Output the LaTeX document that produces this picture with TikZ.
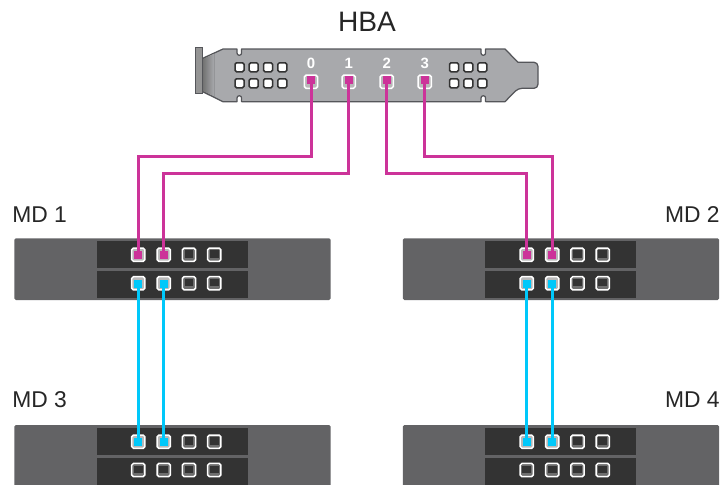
\documentclass[tikz,border=0pt]{standalone}
\usepackage{fontspec}
\setmainfont{Liberation Sans}
\definecolor{chassis}{HTML}{636365}
\definecolor{bay}{HTML}{333333}
\definecolor{idlerim}{HTML}{6E6E6E}
\definecolor{plate}{HTML}{A8A9AC}
\definecolor{plateedge}{HTML}{55565A}
\definecolor{pinkw}{HTML}{CC3399}
\definecolor{bluew}{HTML}{00C8FA}
\tikzset{
  x=0.02cm,y=-0.02cm,
  portbox/.style={draw=white,line width=0.3mm,rounded corners=0.35mm,minimum size=0.265cm,inner sep=0pt,outer sep=0pt},
  idle/.style={portbox,fill=idlerim,
    path picture={\fill[bay,sharp corners] ([shift={(0.45mm,0.7mm)}]path picture bounding box.south west) rectangle ([shift={(-0.45mm,-0.45mm)}]path picture bounding box.north east);}},
  live/.style={portbox,fill=white!72!black},
  pinkend/.style={fill=pinkw,minimum size=0.16cm,inner sep=0pt,outer sep=0pt},
  blueend/.style={fill=bluew,minimum size=0.16cm,inner sep=0pt,outer sep=0pt},
  hole/.style={draw=black!80,fill=white,line width=0.3mm,rounded corners=0.3mm,minimum size=0.18cm,inner sep=0pt},
  pinkwire/.style={draw=pinkw,line width=0.6mm},
  bluewire/.style={draw=bluew,line width=0.6mm},
  chassisbox/.style={fill=chassis,rounded corners=0.3mm},
  baybox/.style={fill=bay},
  title/.style={font=\fontsize{16pt}{18pt}\selectfont,text=black!85,inner sep=0pt},
  caption/.style={font=\fontsize{13pt}{15pt}\selectfont,text=black!85,inner sep=0pt},
  digit/.style={font=\bfseries\fontsize{8.5pt}{10pt}\selectfont,text=white,inner sep=0pt},
}
\newcommand{\mdbody}[2]{%
  \fill[chassisbox] (#1+14.3,#2+238.3) rectangle (#1+330.7,#2+300);
  \fill[baybox] (#1+96.7,#2+240.7) rectangle (#1+247.7,#2+267.7);
  \fill[baybox] (#1+96.7,#2+271.3) rectangle (#1+247.7,#2+298.3);
}
\begin{document}
\begin{tikzpicture}
\useasboundingbox (0,0) rectangle (724,484);
% HBA bracket
\fill[black!42] (195.7,47.7) rectangle (202.7,93.3);
\draw[plateedge,line width=0.2mm] (195.7,47.7) rectangle (202.7,93.3);
\draw[fill=plate,draw=plateedge,line width=0.25mm,line join=round]
  (202.7,58.3) -- (223,49) -- (237,49) -- (237,53) arc[start angle=180,end angle=360,x radius=2.3,y radius=-2.3] -- (241.6,49)
  -- (481,49) -- (481,53) arc[start angle=180,end angle=360,x radius=2.3,y radius=-2.3] -- (485.6,49)
  -- (505,49) -- (518,62.3) -- (534,62.3) [rounded corners=0.8mm] -- (538,62.3) -- (538,88.3) -- (518,88.3) [sharp corners]
  -- (505,101.7) -- (485.6,101.7) -- (485.6,98) arc[start angle=0,end angle=180,x radius=2.3,y radius=-2.3] -- (481,101.7)
  -- (241.6,101.7) -- (241.6,98) arc[start angle=0,end angle=180,x radius=2.3,y radius=-2.3] -- (237,101.7)
  -- (223,101.7) -- (202.7,91.7) -- cycle;
\fill[left color=black!55,right color=plate] (203,58.6) -- (214,53.5) -- (214,96.5) -- (203,91.4) -- cycle;
% bracket holes
\foreach \i/\hx in {1/239.5,2/253.7,3/268,4/282.3,5/454,6/468.3,7/482.3}{
  \node[hole] (hu\i) at (\hx,67.3) {};
  \node[hole] (hl\i) at (\hx,83.3) {};
}
% HBA ports
\foreach \n/\hx in {0/311,1/348.7,2/386.7,3/424.7}{
  \node[live] (hp\n) at (\hx,81.7) {};
  \node[digit] (hd\n) at (\hx,63.3) {\n};
}
% disk enclosures
\mdbody{0}{0}
\mdbody{388.5}{0}
\begin{scope}
\clip (0,0) rectangle (724,484);
\fill[chassisbox] (14.3,425) rectangle (330.7,490);
\fill[chassisbox] (402.8,425) rectangle (719.2,490);
\foreach \ox in {0,388.5}{
  \fill[baybox] (\ox+96.7,427.7) rectangle (\ox+247.7,454.7);
  \fill[baybox] (\ox+96.7,458.3) rectangle (\ox+247.7,490);
}
\end{scope}
% ports of the enclosures
\foreach \u/\ox/\ya/\yb in {a/0/254.7/283.3,b/388.5/254.7/283.3,c/0/441.7/470,d/388.5/441.7/470}{
  \foreach \k/\px in {1/138.3,2/163.7}{
    \node[live] (\u t\k) at (\ox+\px,\ya) {};
  }
  \foreach \k/\px in {3/189,4/214.3}{
    \node[idle] (\u t\k) at (\ox+\px,\ya) {};
    \node[idle] (\u b\k) at (\ox+\px,\yb) {};
  }
}
\foreach \u/\ox in {a/0,b/388.5}{
  \node[live] (\u b1) at (\ox+138.3,283.3) {};
  \node[live] (\u b2) at (\ox+163.7,283.3) {};
}
\foreach \u/\ox in {c/0,d/388.5}{
  \node[idle] (\u b1) at (\ox+138.3,470) {};
  \node[idle] (\u b2) at (\ox+163.7,470) {};
}
% connector ends
\foreach \n/\hx in {0/311,1/348.7,2/386.7,3/424.7}
  \node[pinkend] (he\n) at (\hx,80.3) {};
\node[pinkend] (ae1) at (138.3,255) {};
\node[pinkend] (ae2) at (163.7,255) {};
\node[pinkend] (be1) at (526.8,255) {};
\node[pinkend] (be2) at (552.2,255) {};
\node[blueend] (as1) at (138.3,283.6) {};
\node[blueend] (as2) at (163.7,283.6) {};
\node[blueend] (bs1) at (526.8,283.6) {};
\node[blueend] (bs2) at (552.2,283.6) {};
\node[blueend] (ce1) at (138.3,442) {};
\node[blueend] (ce2) at (163.7,442) {};
\node[blueend] (de1) at (526.8,442) {};
\node[blueend] (de2) at (552.2,442) {};
% connectors
\coordinate (r0) at (0,156);
\coordinate (r1) at (0,173.5);
\draw[pinkwire] (he0.center) -- (he0.center |- r0) -- (ae1.center |- r0) -- (ae1.center);
\draw[pinkwire] (he1.center) -- (he1.center |- r1) -- (ae2.center |- r1) -- (ae2.center);
\draw[pinkwire] (he2.center) -- (he2.center |- r1) -- (be1.center |- r1) -- (be1.center);
\draw[pinkwire] (he3.center) -- (he3.center |- r0) -- (be2.center |- r0) -- (be2.center);
\draw[bluewire] (as1.center) -- (ce1.center);
\draw[bluewire] (as2.center) -- (ce2.center);
\draw[bluewire] (bs1.center) -- (de1.center);
\draw[bluewire] (bs2.center) -- (de2.center);
% labels
\node[title] (hba) at (367,22) {HBA};
\node[caption,anchor=west] (md1) at (12,215) {MD 1};
\node[caption,anchor=east] (md2) at (720,215) {MD 2};
\node[caption,anchor=west] (md3) at (12,400) {MD 3};
\node[caption,anchor=east] (md4) at (720,400) {MD 4};
\end{tikzpicture}
\end{document}
